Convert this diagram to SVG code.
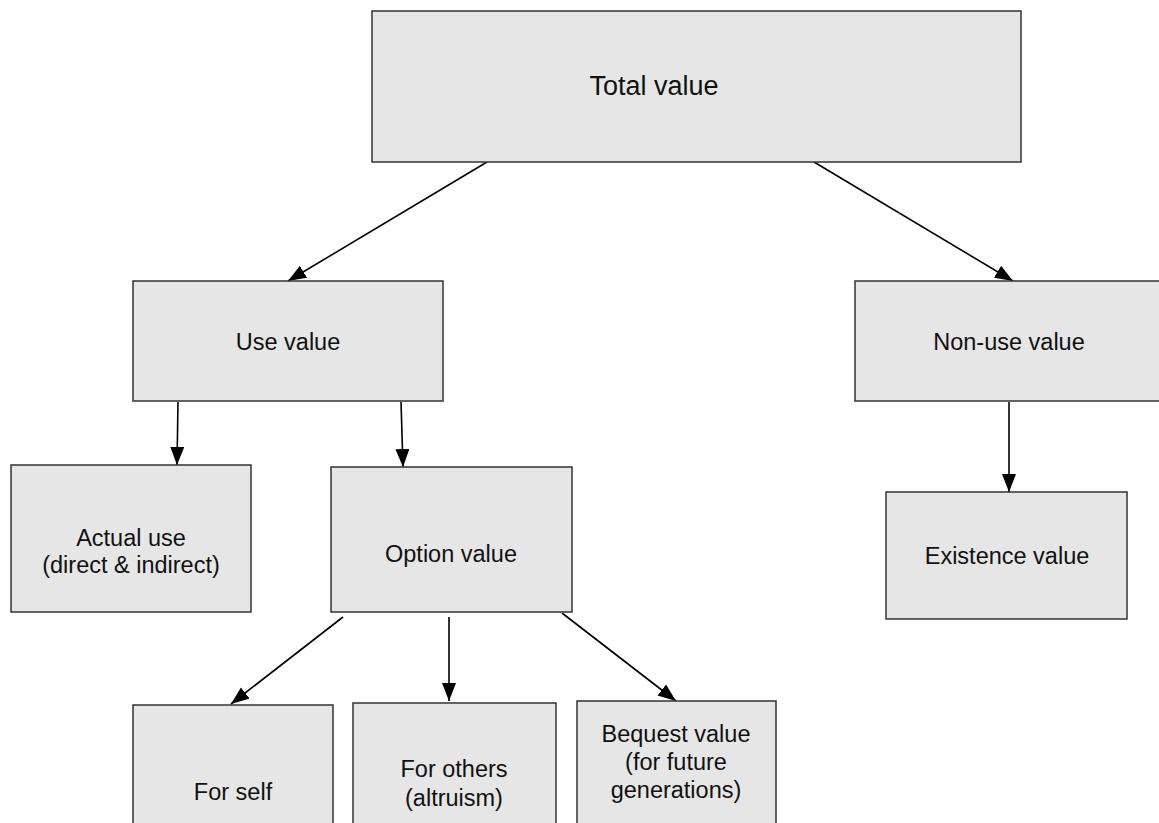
<svg xmlns="http://www.w3.org/2000/svg" width="1159" height="823" viewBox="0 0 1159 823">
<style>
.box{fill:#e6e6e6;stroke:#333;stroke-width:1.5}
.t{font-family:"Liberation Sans",Arial,sans-serif;font-size:23.5px;fill:#111;text-anchor:middle}
.big{font-size:27px}
.c{stroke:#000;stroke-width:1.6;fill:none;marker-end:url(#ah)}
</style>
<defs>
<marker id="ah" markerUnits="userSpaceOnUse" markerWidth="19" markerHeight="15" refX="18" refY="7" orient="auto">
<path d="M0,0 L18,7 L0,14 z" fill="#000"/>
</marker>
</defs>
<rect width="1159" height="823" fill="#fff"/>
<g id="connectors">
<line class="c" x1="487" y1="162" x2="288" y2="281"/>
<line class="c" x1="814" y1="162" x2="1013" y2="281"/>
<line class="c" x1="178" y1="402" x2="177" y2="465"/>
<line class="c" x1="401" y1="402" x2="403" y2="467"/>
<line class="c" x1="1009" y1="402" x2="1009" y2="492"/>
<line class="c" x1="343" y1="617" x2="231" y2="704"/>
<line class="c" x1="449" y1="617" x2="449" y2="701"/>
<line class="c" x1="562" y1="613" x2="676" y2="701"/>
</g>
<g id="total">
<rect class="box" x="372" y="11" width="649" height="151"/>
<text class="t big" x="654" y="95">Total value</text>
</g>
<g id="use">
<rect class="box" x="133" y="281" width="310" height="120"/>
<text class="t" x="288" y="350">Use value</text>
</g>
<g id="nonuse">
<rect class="box" x="855" y="281" width="308" height="120"/>
<text class="t" x="1009" y="350">Non-use value</text>
</g>
<g id="actual">
<rect class="box" x="11" y="465" width="240" height="147"/>
<text class="t" x="131" y="546">Actual use</text>
<text class="t" x="131" y="573">(direct &amp; indirect)</text>
</g>
<g id="option">
<rect class="box" x="331" y="467" width="241" height="145"/>
<text class="t" x="451" y="562">Option value</text>
</g>
<g id="existence">
<rect class="box" x="886" y="492" width="241" height="127"/>
<text class="t" x="1007" y="564">Existence value</text>
</g>
<g id="self">
<rect class="box" x="133" y="705" width="200" height="130"/>
<text class="t" x="233" y="800">For self</text>
</g>
<g id="others">
<rect class="box" x="353" y="703" width="203" height="130"/>
<text class="t" x="454" y="777">For others</text>
<text class="t" x="454" y="806">(altruism)</text>
</g>
<g id="bequest">
<rect class="box" x="577" y="701" width="199" height="130"/>
<text class="t" x="676" y="742">Bequest value</text>
<text class="t" x="676" y="770">(for future</text>
<text class="t" x="676" y="798">generations)</text>
</g>
</svg>
